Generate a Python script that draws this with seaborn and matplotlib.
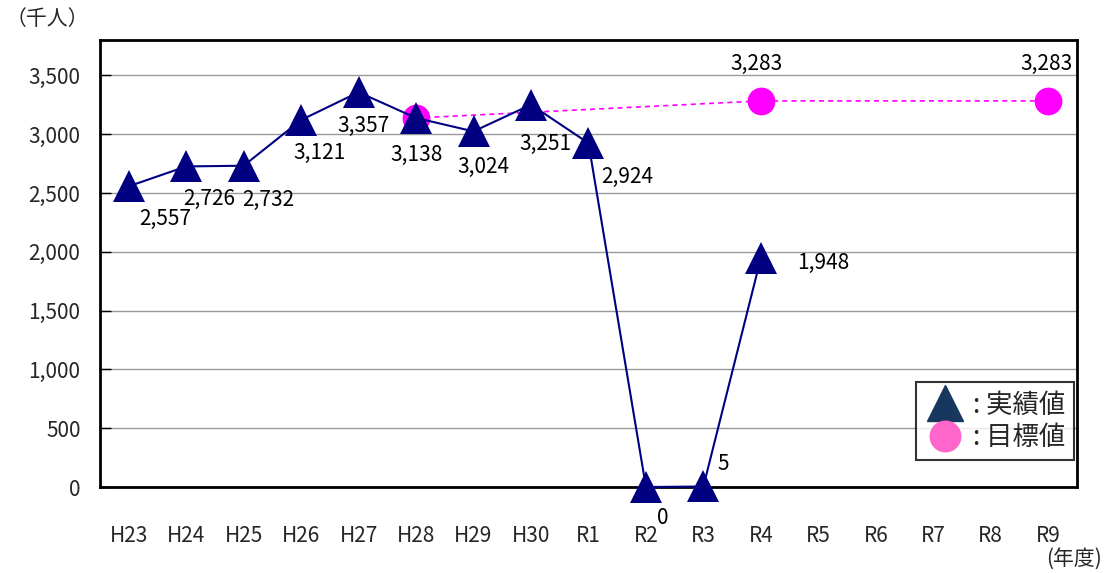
import numpy as np
import pandas as pd
import seaborn as sns
import matplotlib.pyplot as plt
from matplotlib.lines import Line2D

years = ["H23", "H24", "H25", "H26", "H27", "H28", "H29", "H30", "R1",
         "R2", "R3", "R4", "R5", "R6", "R7", "R8", "R9"]
actual = [2557, 2726, 2732, 3121, 3357, 3138, 3024, 3251, 2924, 0, 5, 1948,
          np.nan, np.nan, np.nan, np.nan, np.nan]
target_years = ["H28", "R4", "R9"]
target = [3138, 3283, 3283]

# label offsets in pixels (dx, dy) from each marker
actual_offsets = [(36, -33), (23, -33), (25, -34), (18, -33), (5, -34), (0, -37),
                  (10, -36), (14, -39), (39, -34), (17, -31), (20, 22), (62, -5)]
target_offsets = [None, (-4, 37), (-2, 37)]

sns.set_style("white")
plt.rcParams["font.family"] = ["Noto Sans CJK JP", "DejaVu Sans"]

df_a = pd.DataFrame({"pos": range(len(years)), "value": actual}).dropna()
df_t = pd.DataFrame({"pos": [years.index(y) for y in target_years], "value": target})

fig = plt.figure(figsize=(11.16, 5.73), dpi=100)
ax = fig.add_axes([0.0896, 0.150, 0.8754, 0.780])

navy = "#000080"
pink = "#FF00FF"
fs = 15

sns.lineplot(data=df_t, x="pos", y="value", ax=ax, color=pink, linestyle=(0, (3, 2.5)),
             linewidth=1.2, marker="o", markersize=20, markeredgewidth=0, zorder=3)
sns.lineplot(data=df_a, x="pos", y="value", ax=ax, color=navy, linewidth=1.5,
             marker="^", markersize=23, markeredgewidth=0, zorder=4)
for ln in ax.lines:
    ln.set_clip_on(False)

for (x, v), off in zip(df_a[["pos", "value"]].values, actual_offsets):
    ax.annotate(f"{int(v):,}", (x, v), xytext=off, textcoords="offset pixels",
                ha="center", va="center", fontsize=fs, color="black", zorder=6)
for (x, v), off in zip(df_t[["pos", "value"]].values, target_offsets):
    if off is None:
        continue
    ax.annotate(f"{int(v):,}", (x, v), xytext=off, textcoords="offset pixels",
                ha="center", va="center", fontsize=fs, color="black", zorder=6)

ax.set_xlim(-0.5, len(years) - 0.5)
ax.set_ylim(0, 3800)
ax.set_yticks(range(0, 3501, 500))
ax.set_yticklabels([f"{t:,}" for t in range(0, 3501, 500)])
ax.yaxis.grid(True, color="#999999", linewidth=1)
ax.set_axisbelow(True)

ax.set_xticks(range(len(years)))
ax.set_xticklabels(years)
ax.set_xticks(np.arange(-0.5, len(years), 1), minor=True)
ax.tick_params(axis="x", which="major", length=0, pad=27, labelsize=fs)
ax.tick_params(axis="x", which="minor", direction="in", length=10, width=1, color="black")
ax.tick_params(axis="y", which="major", direction="in", length=8, width=1, color="black",
               pad=14, labelsize=fs, left=True)
ax.set_xlabel("")
ax.set_ylabel("")

for s in ax.spines.values():
    s.set_color("black")
    s.set_linewidth(2)

fig.text(0.042, 0.966, "（千人）", fontsize=fs, ha="center", va="center")
fig.text(0.962, 0.024, "(年度)", fontsize=fs, ha="center", va="center")

handles = [Line2D([], [], linestyle="none", marker="^", markersize=26, color="#17375E"),
           Line2D([], [], linestyle="none", marker="o", markersize=22, color="#FF66CC")]
leg = ax.legend(handles, [": 実績値", ": 目標値"], loc="lower right",
                bbox_to_anchor=(0.997, 0.06), fontsize=19, frameon=True, fancybox=False,
                edgecolor="black", handlelength=1.5, handletextpad=0.3, borderpad=0.35,
                labelspacing=0.2, borderaxespad=0)
leg.get_frame().set_linewidth(1.5)
leg.set_zorder(10)

plt.savefig("out.png", dpi=100)
